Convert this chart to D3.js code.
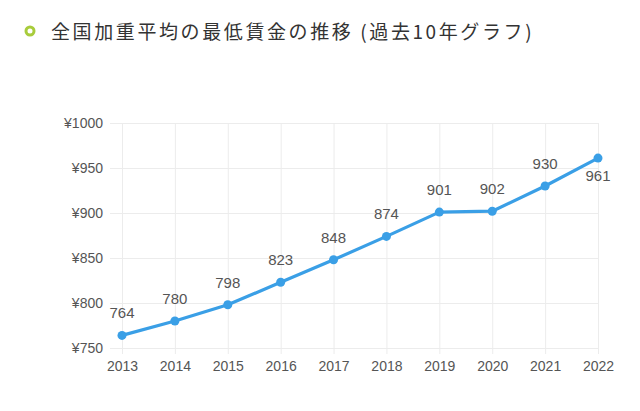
<!DOCTYPE html>
<html>
<head>
<meta charset="utf-8">
<script src="https://cdn.jsdelivr.net/npm/d3@7/dist/d3.min.js"></script>
<style>
  html, body { margin: 0; padding: 0; background: #fff; }
  svg { display: block; font-family: "Noto Sans CJK JP", "Noto Sans", sans-serif; }
</style>
</head>
<body>
<svg id="chart" width="640" height="411"></svg>
<script>
var years = ['2013', '2014', '2015', '2016', '2017', '2018', '2019', '2020', '2021', '2022'];
var wages = [764, 780, 798, 823, 848, 874, 901, 902, 930, 961];
var yTicks = [750, 800, 850, 900, 950, 1000];
var title = '全国加重平均の最低賃金の推移 (過去10年グラフ)';

var svg = d3.select('#chart');
var plotL = 122, plotR = 598, plotT = 123, plotB = 348;
var numFont = '"Liberation Sans", Arial, sans-serif';

// title with ring marker
svg.append('circle').attr('cx', 30).attr('cy', 31).attr('r', 4)
  .attr('fill', 'none').attr('stroke', '#a8cc3c').attr('stroke-width', 3);
svg.append('text').attr('x', 51).attr('y', 39)
  .attr('font-size', 19).attr('fill', '#333').attr('letter-spacing', 2.6).text(title);

var x = d3.scalePoint().domain(years).range([plotL, plotR]);
var y = d3.scaleLinear().domain([750, 1000]).range([plotB, plotT]);

var grid = svg.append('g').attr('stroke', '#ececec').attr('stroke-width', 1);
grid.selectAll('line.h').data(yTicks).enter().append('line')
  .attr('x1', 110).attr('x2', plotR)
  .attr('y1', function(d){ return y(d) + 0.5; }).attr('y2', function(d){ return y(d) + 0.5; });
grid.selectAll('line.v').data(years).enter().append('line')
  .attr('y1', plotT).attr('y2', plotB + 6)
  .attr('x1', function(d){ return x(d) + 0.5; }).attr('x2', function(d){ return x(d) + 0.5; });

var yAxis = svg.append('g').attr('transform', 'translate(110,0)')
  .call(d3.axisLeft(y).tickValues(yTicks).tickSize(0).tickPadding(7).tickFormat(function(d){ return '¥' + d; }));
yAxis.select('.domain').remove();
yAxis.selectAll('text').attr('font-size', 14).attr('fill', '#555').attr('font-family', numFont);

var xAxis = svg.append('g').attr('transform', 'translate(0,' + plotB + ')')
  .call(d3.axisBottom(x).tickSize(0).tickPadding(13));
xAxis.select('.domain').remove();
xAxis.selectAll('text').attr('font-size', 14).attr('fill', '#555').attr('font-family', numFont);

var pts = years.map(function(yr, i){ return { year: yr, v: wages[i] }; });

svg.append('path').datum(pts)
  .attr('fill', 'none').attr('stroke', '#3a9fe6').attr('stroke-width', 3.2)
  .attr('stroke-linejoin', 'round')
  .attr('d', d3.line().x(function(d){ return x(d.year); }).y(function(d){ return y(d.v); }));

svg.selectAll('circle.pt').data(pts).enter().append('circle')
  .attr('class', 'pt').attr('r', 4.5).attr('fill', '#3a9fe6')
  .attr('cx', function(d){ return x(d.year); }).attr('cy', function(d){ return y(d.v); });

svg.selectAll('text.lbl').data(pts).enter().append('text')
  .attr('class', 'lbl').attr('text-anchor', 'middle')
  .attr('font-size', 15).attr('fill', '#555').attr('font-family', numFont)
  .attr('x', function(d){ return x(d.year); })
  .attr('y', function(d, i){ return i === pts.length - 1 ? y(d.v) + 23 : y(d.v) - 17; })
  .text(function(d){ return d.v; });
</script>
</body>
</html>
